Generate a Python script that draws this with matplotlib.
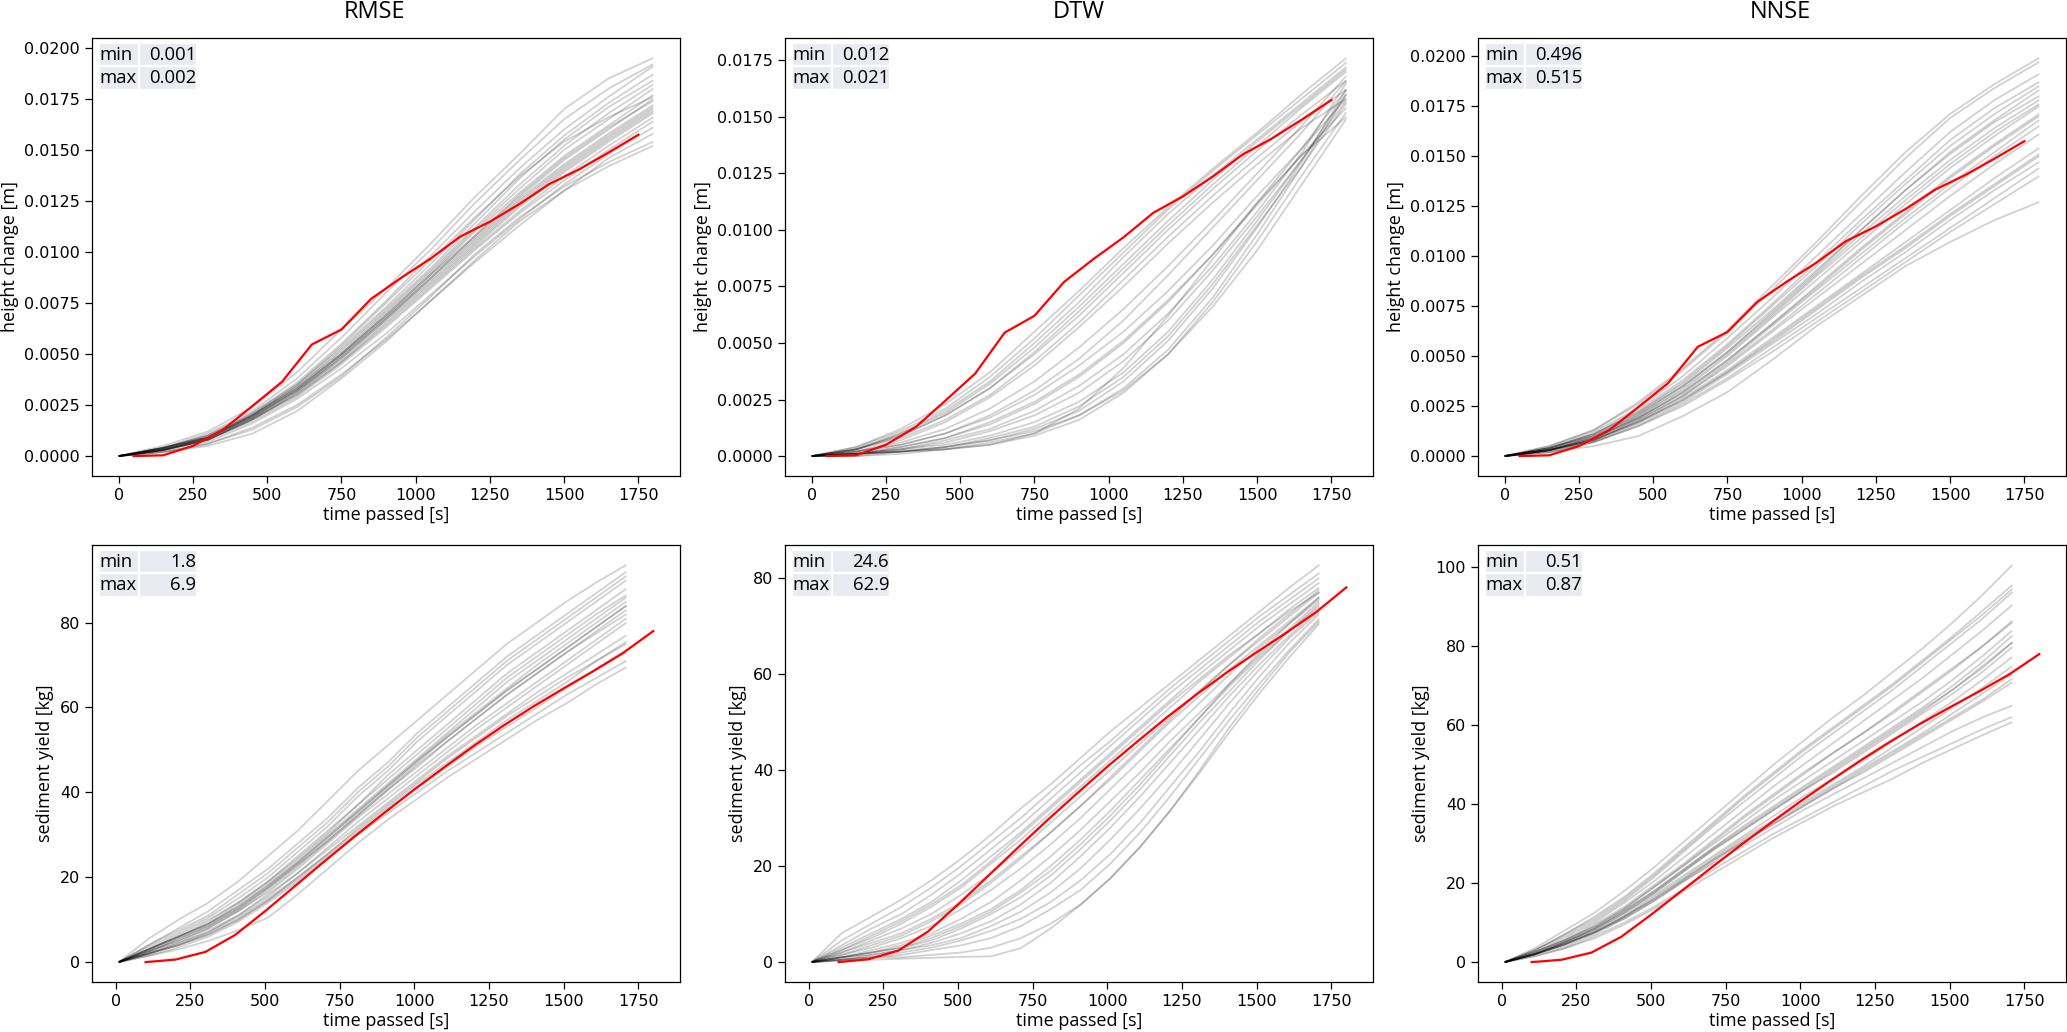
import numpy as np
import matplotlib
matplotlib.use("Agg")
import matplotlib.pyplot as plt
from matplotlib.ticker import MultipleLocator

# ---------------- data ----------------
metrics = ["RMSE", "DTW", "NNSE"]

# time axes [s]
t_top_sim = [0, 150, 300, 450, 600, 750, 900, 1050, 1200, 1350, 1500, 1650, 1800]
t_top_obs = [50, 150, 250, 350, 450, 550, 650, 750, 850, 950, 1050, 1150, 1250,
             1350, 1450, 1550, 1650, 1750]
t_bot_sim = [10, 110, 210, 310, 410, 510, 610, 710, 810, 910, 1010, 1110, 1210,
             1310, 1410, 1510, 1610, 1710]
t_bot_obs = [100, 200, 300, 400, 500, 600, 700, 800, 900, 1000, 1100, 1200, 1300,
             1400, 1500, 1600, 1700, 1800]

# observed height change [1e-4 m]
obs_height = [0.0, 0.4, 5.0, 12.8, 24.5, 36.4, 54.6, 62.0, 77.0, 87.2, 96.7, 107.5,
              114.8, 123.5, 133.2, 140.4, 148.7, 157.4]
# observed sediment yield [kg]
obs_sediment = [0.0, 0.6, 2.4, 6.4, 12.0, 17.9, 23.8, 29.6, 35.2, 40.7, 45.9, 51.0,
                55.8, 60.3, 64.5, 68.6, 72.9, 78.0]

# simulated height change [1e-4 m], best runs per metric
sim_height_rmse = [
    [0, 5, 12, 24, 41, 62, 82, 104, 127, 148, 170, 185, 195],
    [0, 4, 11, 22, 38, 58, 80, 101, 124, 145, 165, 180, 192],
    [0, 4, 10, 21, 36, 55, 76, 98, 120, 141, 160, 176, 191],
    [0, 4, 10, 21, 35, 53, 73, 94, 116, 138, 157, 173, 187],
    [0, 4, 10, 20, 34, 52, 72, 92, 114, 136, 155, 171, 184],
    [0, 4, 9, 20, 34, 51, 71, 91, 112, 133, 152, 168, 182],
    [0, 4, 9, 20, 33, 50, 70, 90, 111, 131, 150, 165, 180],
    [0, 3, 9, 19, 33, 50, 69, 89, 110, 129, 147, 162, 177],
    [0, 4, 9, 20, 33, 50, 69, 89, 108, 127, 145, 160, 175],
    [0, 3, 9, 19, 32, 49, 68, 88, 107, 126, 143, 158, 172],
    [0, 4, 9, 19, 32, 49, 68, 87, 106, 125, 142, 157, 171],
    [0, 3, 8, 19, 32, 48, 67, 86, 105, 124, 141, 156, 170],
    [0, 3, 8, 18, 31, 47, 66, 85, 104, 123, 140, 155, 169],
    [0, 3, 8, 18, 30, 46, 65, 84, 103, 122, 139, 154, 168],
    [0, 3, 8, 18, 30, 46, 64, 83, 102, 120, 137, 152, 166],
    [0, 3, 8, 17, 29, 45, 63, 82, 101, 119, 135, 150, 164],
    [0, 3, 7, 16, 28, 43, 60, 79, 98, 116, 133, 148, 161],
    [0, 2, 6, 14, 25, 40, 57, 76, 95, 113, 130, 146, 158],
    [0, 2, 6, 13, 24, 39, 58, 78, 99, 117, 132, 144, 154],
    [0, 2, 5, 11, 22, 38, 56, 76, 96, 115, 130, 142, 152],
    [0, 3, 9, 20, 35, 54, 75, 96, 117, 137, 154, 166, 176],
    [0, 3, 8, 18, 31, 48, 67, 87, 108, 128, 146, 161, 174],
]
sim_height_dtw = [
    [0, 4, 12, 23, 37, 55, 73, 92, 110, 127, 143, 160, 176],
    [0, 4, 11, 21, 35, 52, 71, 90, 109, 126, 142, 158, 174],
    [0, 3, 10, 20, 33, 50, 68, 88, 107, 124, 140, 156, 172],
    [0, 3, 10, 19, 32, 48, 66, 85, 104, 122, 139, 155, 171],
    [0, 3, 9, 18, 30, 46, 64, 83, 102, 120, 137, 154, 170],
    [0, 3, 9, 18, 30, 45, 62, 81, 100, 118, 135, 151, 166],
    [0, 3, 8, 16, 27, 42, 59, 78, 97, 115, 132, 148, 162],
    [0, 2, 7, 15, 26, 40, 57, 75, 94, 112, 129, 145, 158],
    [0, 2, 6, 12, 21, 33, 48, 65, 84, 104, 125, 146, 168],
    [0, 2, 5, 10, 18, 29, 43, 60, 80, 101, 122, 143, 166],
    [0, 2, 5, 10, 17, 27, 40, 55, 73, 93, 115, 136, 158],
    [0, 1, 4, 8, 15, 24, 36, 51, 69, 89, 111, 133, 154],
    [0, 1, 4, 8, 14, 23, 35, 50, 68, 89, 112, 136, 162],
    [0, 1, 3, 7, 12, 20, 31, 45, 63, 84, 108, 134, 165],
    [0, 1, 3, 6, 11, 18, 28, 42, 60, 82, 106, 131, 160],
    [0, 1, 2, 4, 8, 13, 22, 35, 53, 76, 102, 128, 156],
    [0, 1, 2, 4, 7, 12, 20, 33, 51, 74, 101, 130, 162],
    [0, 1, 2, 3, 6, 10, 18, 30, 47, 70, 98, 128, 160],
    [0, 0, 2, 3, 5, 9, 16, 28, 45, 68, 95, 124, 152],
    [0, 0, 1, 3, 5, 10, 21, 39, 62, 87, 112, 133, 150],
    [0, 1, 2, 4, 7, 11, 18, 29, 45, 66, 91, 120, 149],
    [0, 1, 3, 5, 9, 15, 24, 37, 55, 78, 104, 131, 157],
]
sim_height_nnse = [
    [0, 5, 13, 27, 44, 63, 85, 107, 130, 152, 171, 186, 199],
    [0, 5, 13, 26, 43, 62, 83, 105, 127, 149, 169, 184, 197],
    [0, 4, 12, 24, 40, 59, 79, 100, 121, 142, 162, 178, 191],
    [0, 4, 11, 23, 38, 56, 76, 97, 118, 138, 158, 174, 187],
    [0, 4, 11, 22, 37, 55, 75, 95, 116, 136, 155, 171, 185],
    [0, 4, 10, 21, 35, 52, 72, 92, 113, 133, 152, 168, 183],
    [0, 4, 10, 21, 35, 52, 71, 91, 111, 130, 148, 164, 178],
    [0, 3, 10, 20, 34, 51, 70, 90, 109, 128, 146, 162, 176],
    [0, 3, 9, 20, 33, 50, 69, 88, 107, 126, 144, 160, 175],
    [0, 3, 9, 19, 32, 48, 66, 85, 104, 122, 140, 156, 171],
    [0, 3, 9, 19, 32, 48, 66, 84, 103, 121, 139, 155, 170],
    [0, 3, 9, 19, 31, 47, 65, 83, 101, 119, 136, 152, 168],
    [0, 3, 8, 18, 30, 45, 62, 79, 96, 113, 130, 146, 161],
    [0, 3, 8, 17, 29, 43, 59, 75, 91, 107, 123, 139, 154],
    [0, 3, 8, 17, 28, 42, 58, 74, 90, 105, 121, 136, 151],
    [0, 3, 8, 17, 28, 42, 57, 73, 89, 104, 120, 135, 150],
    [0, 3, 7, 16, 27, 41, 56, 71, 87, 102, 118, 133, 147],
    [0, 2, 7, 15, 26, 39, 54, 69, 84, 99, 114, 129, 144],
    [0, 2, 7, 15, 25, 38, 52, 67, 82, 97, 112, 126, 140],
    [0, 2, 5, 10, 20, 32, 48, 65, 80, 95, 107, 118, 127],
    [0, 3, 8, 18, 30, 46, 63, 81, 99, 117, 134, 150, 165],
    [0, 4, 11, 22, 36, 54, 73, 93, 113, 133, 151, 167, 180],
]

# simulated sediment yield [kg]
sim_sed_rmse = [
    [0, 5.5, 10, 14, 19, 25, 31, 38, 45, 51, 57, 63, 69, 75, 80, 85, 89.5, 93.6],
    [0, 4, 8, 12, 17, 22, 28, 34, 41, 47, 54, 60, 66, 72, 77, 82, 87, 92],
    [0, 4, 7.5, 11, 16, 21, 27, 33, 40, 46, 53, 59, 65, 71, 76, 81, 86, 91],
    [0, 3.5, 7, 10.5, 15, 20, 26, 32, 39, 45, 52, 58, 64, 70, 75, 80, 85, 90],
    [0, 3, 6.5, 10, 14, 19, 25, 31, 37, 44, 50, 56, 62, 68, 73, 78, 83, 88],
    [0, 3, 6, 9.5, 14, 19, 24.5, 30.5, 37, 43, 49, 55, 61, 67, 72, 77, 82, 86.5],
    [0, 3, 6, 9, 13.5, 18.5, 24, 30, 36, 42, 48, 54, 60, 66, 71, 76, 81, 86],
    [0, 3, 6, 9, 13, 18, 23.5, 29.5, 35.5, 41.5, 47.5, 53.5, 59, 64.5, 70, 75, 80, 85],
    [0, 2.5, 5.5, 8.5, 12.5, 17.5, 23, 29, 35, 41, 47, 53, 58.5, 64, 69, 74, 79, 84],
    [0, 2.5, 5, 8, 12, 17, 22.5, 28.5, 34.5, 40.5, 46, 52, 57.5, 63, 68, 73, 78, 83],
    [0, 2.5, 5, 8, 12, 16.5, 22, 28, 34, 39.5, 45, 50.5, 56, 61, 66, 71, 76, 81],
    [0, 2, 4.5, 7.5, 11, 16, 21, 27, 33, 38.5, 44, 49.5, 55, 60, 65, 70, 75, 80],
    [0, 2, 4.5, 7, 11, 15.5, 21, 26.5, 32, 37.5, 43, 48.5, 53.5, 58.5, 63.5, 68, 72.5, 77],
    [0, 2, 4, 7, 10.5, 15, 20, 25.5, 31, 36.5, 42, 47, 52, 57, 61.5, 66, 71, 75.5],
    [0, 2, 4, 6.5, 10, 14.5, 19.5, 25, 30.5, 36, 41, 46, 51, 55.5, 60, 64.5, 69, 73],
    [0, 1.5, 3.5, 6, 9.5, 14, 19, 24.5, 30, 35, 40, 45, 49.5, 54, 58.5, 63, 67, 71],
    [0, 1.5, 3, 5, 7.5, 10.5, 16, 22, 28, 33.5, 38.5, 43.5, 48, 52.5, 57, 61, 65.5, 69.5],
    [0, 2, 4, 6.5, 10, 14.5, 20, 25.5, 31.5, 37, 42.5, 48, 53, 58, 62.5, 67, 71, 75],
    [0, 3, 6, 9, 13, 18, 23.5, 29.5, 35.5, 41.5, 47.5, 53, 58.5, 64, 69, 74, 79, 84],
    [0, 2.5, 5.5, 8.5, 12.5, 17.5, 23, 28.5, 34.5, 40.5, 46.5, 52, 57.5, 63, 68, 73, 77.5, 82],
]
sim_sed_dtw = [
    [0, 6, 9.5, 13, 17, 21.5, 26.5, 32, 37, 42.5, 48, 53, 58, 63, 68, 73, 78, 82.7],
    [0, 4.5, 8, 11.5, 15.5, 20, 25, 30, 35.5, 41, 46, 51.5, 57, 62, 67, 72, 76.5, 81],
    [0, 3.5, 7, 10, 14, 18.5, 23.5, 28.5, 34, 39.5, 45, 50.5, 56, 61, 66, 71, 75.5, 80],
    [0, 3, 6, 9, 12.5, 17, 22, 27, 32.5, 38, 43.5, 49, 54.5, 60, 65, 70, 74.5, 79],
    [0, 2.5, 5, 8, 11.5, 15.5, 20.5, 25.5, 31, 36.5, 42, 47.5, 53, 58.5, 63.5, 68.5, 73.5, 78],
    [0, 2, 4.5, 7, 10, 14, 18.5, 23.5, 29, 34.5, 40, 45.5, 51, 56.5, 62, 67, 72, 77],
    [0, 2, 4, 6, 9, 12.5, 17, 22, 27, 32.5, 38, 44, 50, 55.5, 61, 66, 71, 76],
    [0, 1.5, 3, 5, 7.5, 11, 15, 19.5, 24.5, 30, 36, 42, 48, 54, 60, 65.5, 70.5, 75.5],
    [0, 1, 2.5, 4, 6, 9, 12.5, 17, 22, 27.5, 33.5, 39.5, 46, 52, 58, 64, 69.5, 75],
    [0, 1, 2, 3.5, 5.5, 8, 11, 15, 20, 25.5, 31.5, 38, 44.5, 51, 57.5, 63.5, 69, 74],
    [0, 1, 2, 3, 4.5, 7, 10, 13.5, 18, 23.5, 29.5, 36, 43, 50, 56.5, 63, 69, 74.5],
    [0, 1, 1.5, 2.5, 4, 6, 8.5, 12, 16.5, 22, 28, 34.5, 41.5, 48.5, 55.5, 62, 68, 73.5],
    [0, 0.5, 1.5, 2.5, 3.5, 5, 7.5, 10.5, 14.5, 19.5, 25.5, 32, 39, 46.5, 54, 61, 67.5, 73],
    [0, 0.5, 1, 2, 3, 4.5, 6.5, 9, 12.5, 17, 22.5, 29, 36.5, 44, 52, 59.5, 66.5, 72.5],
    [0, 0.5, 1, 1.5, 2.5, 3.5, 5, 7.5, 11, 15, 20.5, 27, 34.5, 42.5, 50.5, 58, 65, 71.5],
    [0, 0.5, 1, 1, 1.5, 2, 3, 5, 8, 12, 17.5, 24, 31.5, 40, 49, 57, 64.5, 71],
    [0, 0.3, 0.5, 0.7, 0.9, 1.1, 1.2, 2.9, 7, 11.9, 17.4, 24, 31.5, 39.5, 48, 56, 63.5, 70.5],
    [0, 2.5, 5.5, 8.5, 12, 16, 21, 26.5, 32, 37.5, 43, 48.5, 54, 59, 64, 68.5, 73, 77],
    [0, 1.5, 3.5, 5.5, 8.5, 12, 16.5, 21.5, 27, 32.5, 38.5, 44.5, 50.5, 56.5, 62, 67.5, 72.5, 77.5],
    [0, 1, 2, 3, 5, 7.5, 10.5, 14.5, 19, 24.5, 30.5, 37, 44, 51, 58, 64.5, 70.5, 76],
]
sim_sed_nnse = [
    [0, 3.5, 8, 12.5, 18, 24, 30.5, 37, 43.5, 50, 56, 62, 67.5, 73.5, 79.5, 86, 93, 100.6],
    [0, 3, 7, 11.5, 16.5, 22.5, 29, 35.5, 42, 48, 54, 59.5, 65, 70.5, 76.5, 82.5, 89, 95.5],
    [0, 3, 7, 11, 16, 22, 28.5, 35, 41.5, 47.5, 53.5, 59, 64.5, 70, 76, 82, 88, 94.5],
    [0, 3, 6.5, 10.5, 15.5, 21.5, 28, 34.5, 40.5, 46.5, 52.5, 58, 63.5, 69, 75, 81, 87, 93.7],
    [0, 2.5, 6, 10, 15, 20.5, 26.5, 32.5, 38.5, 44.5, 50, 55.5, 61, 66.5, 72, 78, 84, 90.5],
    [0, 2.5, 5.5, 9.5, 14, 19.5, 25, 31, 37, 42.5, 48, 53, 58, 63, 68.5, 74, 80, 86.5],
    [0, 2.5, 5.5, 9, 13.5, 19, 24.5, 30, 35.5, 41, 46, 51, 56, 61, 66, 71.5, 77.5, 84],
    [0, 2, 5, 8.5, 13, 18, 23.5, 29, 34.5, 39.5, 44.5, 49.5, 54.5, 59.5, 64.5, 70, 76, 82.7],
    [0, 2, 5, 8.5, 13, 18, 23.5, 29, 34, 39, 44, 49, 54, 59, 64, 69, 75, 81],
    [0, 2, 5, 8, 12.5, 17.5, 23, 28.5, 33.5, 38.5, 43.5, 48, 53, 58, 63, 68, 73.5, 79.8],
    [0, 2, 4.5, 8, 12, 17, 22, 27, 32, 37, 42, 46.5, 51, 56, 61, 66, 71.5, 77.3],
    [0, 2, 4.5, 7.5, 11.5, 16.5, 21.5, 26.5, 31.5, 36, 40.5, 45, 49.5, 54.5, 59.5, 64.5, 69.5, 75],
    [0, 2, 4.5, 7.5, 11.5, 16, 21, 26, 31, 35.5, 40, 44.5, 49, 53.5, 58, 63, 68, 73],
    [0, 2, 4.5, 7.5, 11.5, 16, 21, 26, 30.5, 35, 39.5, 44, 48.5, 53, 57.5, 62, 66.5, 71.8],
    [0, 2, 4.5, 7.5, 11, 15.5, 20.5, 25.5, 30.5, 35, 39.5, 44, 48, 52.5, 57, 61.5, 66, 70.9],
    [0, 2, 4, 7, 11, 15.5, 20.5, 25, 29.5, 34, 38.5, 42.5, 46.5, 50.5, 54.5, 58.5, 62, 65],
    [0, 1.5, 3.5, 6.5, 10, 14, 18.5, 23.5, 28, 32.5, 36.5, 40.5, 44.5, 48.5, 52, 55.5, 59, 62.1],
    [0, 1.5, 3.5, 6, 9.5, 13.5, 18, 22.5, 27, 31.5, 35.5, 39.5, 43, 46.5, 50.5, 54, 57.5, 60.8],
    [0, 2.5, 5.5, 9, 13.5, 19, 24.5, 30.5, 36.5, 42, 47.5, 53, 58, 63.5, 69, 74.5, 80, 86],
    [0, 2, 5, 8.5, 12.5, 17.5, 23, 28.5, 33.5, 38.5, 43.5, 48.5, 53.5, 58.5, 63.5, 69, 74.5, 81],
]

# min / max metric values shown in the corner tables
table_height = [("0.001", "0.002"), ("0.012", "0.021"), ("0.496", "0.515")]
table_sediment = [("1.8", "6.9"), ("24.6", "62.9"), ("0.51", "0.87")]

# ---------------- figure ----------------
W, H = 2067, 1032
DPI = 100
fig = plt.figure(figsize=(W / DPI, H / DPI), dpi=DPI)

LABEL_FONT = ["Open Sans", "DejaVu Sans"]
TICK_FONT = ["DejaVu Sans"]

col_left = [92, 785, 1478]
ax_w = 588
rows = [(38, 438), (545, 437)]   # (top, height) in pixels
title_x = [375, 1079, 1780]

GRAY_ALPHA = 0.18
GRAY_LW = 1.3


def px_axes(left, top, w, h):
    return fig.add_axes([left / W, 1 - (top + h) / H, w / W, h / H])


def add_table(ax, vals, ax_h):
    cell_text = [["min", vals[0]], ["max", vals[1]]]
    colors = [["#eaeaf2", "#eaeaf2"], ["#eaeaf2", "#eaeaf2"]]
    x0 = 7 / ax_w
    tw = 98 / ax_w
    ytop = 1 - 4.7 / ax_h
    th = 47.3 / ax_h
    tab = ax.table(cellText=cell_text, cellColours=colors, colWidths=[40, 58],
                   bbox=[x0, ytop - th, tw, th], zorder=5)
    tab.auto_set_font_size(False)
    for (r, c), cell in tab.get_celld().items():
        cell.set_edgecolor("white")
        cell.set_linewidth(1.6)
        cell.PAD = 0.015
        cell._loc = "left" if c == 0 else "right"
        cell.get_text().set_ha("left" if c == 0 else "right")
        cell.set_text_props(fontsize=13.3, family=LABEL_FONT, color="black")
    return tab


sims_top = [sim_height_rmse, sim_height_dtw, sim_height_nnse]
sims_bot = [sim_sed_rmse, sim_sed_dtw, sim_sed_nnse]

for ci in range(3):
    for ri, (top, h) in enumerate(rows):
        ax = px_axes(col_left[ci], top, ax_w, h)
        if ri == 0:
            for line in sims_top[ci]:
                ax.plot(t_top_sim, np.array(line) * 1e-4, color="black",
                        alpha=GRAY_ALPHA, lw=GRAY_LW, solid_capstyle="butt")
            ax.plot(t_top_obs, np.array(obs_height) * 1e-4, color="red", lw=1.6,
                    zorder=4)
            ax.set_ylabel("height change [m]", fontsize=13, family=LABEL_FONT)
            ax.yaxis.set_major_locator(MultipleLocator(0.0025))
            ax.yaxis.set_major_formatter(plt.FuncFormatter(lambda v, p: f"{v:.4f}"))
            add_table(ax, table_height[ci], h)
        else:
            for line in sims_bot[ci]:
                ax.plot(t_bot_sim, line, color="black", alpha=GRAY_ALPHA, lw=GRAY_LW,
                        solid_capstyle="butt")
            ax.plot(t_bot_obs, obs_sediment, color="red", lw=1.6, zorder=4)
            ax.set_ylabel("sediment yield [kg]", fontsize=13, family=LABEL_FONT)
            ax.yaxis.set_major_locator(MultipleLocator(20))
            add_table(ax, table_sediment[ci], h)
        ax.xaxis.set_major_locator(MultipleLocator(250))
        ax.set_xlabel("time passed [s]", fontsize=13, family=LABEL_FONT, labelpad=2)
        ax.tick_params(labelsize=11.5, length=5, width=0.9)
        for lab in ax.get_xticklabels() + ax.get_yticklabels():
            lab.set_family(TICK_FONT)
        for sp in ax.spines.values():
            sp.set_linewidth(0.9)

    fig.text(title_x[ci] / W, 1 - 18.5 / H, metrics[ci], ha="center", va="baseline",
             fontsize=17, family=LABEL_FONT)

fig.savefig("out.png", dpi=DPI)
